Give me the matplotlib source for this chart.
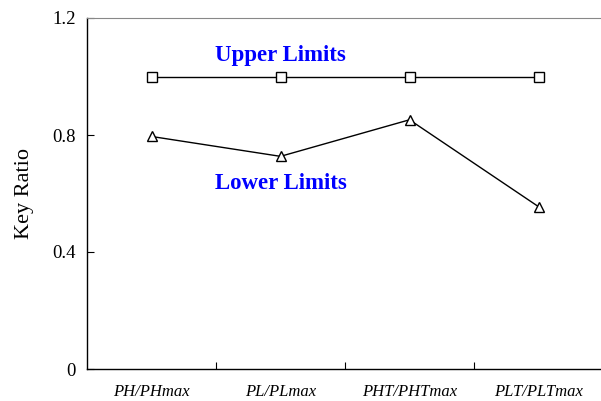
import matplotlib.pyplot as plt

# ── data ──────────────────────────────────────────────────────────────────────
CATEGORIES = ['PH/PHmax', 'PL/PLmax', 'PHT/PHTmax', 'PLT/PLTmax']
UPPER = [1.0, 1.0, 1.0, 1.0]
LOWER = [0.795, 0.727, 0.852, 0.555]
Y_TICKS = [0, 0.4, 0.8, 1.2]
Y_TICK_LABELS = ['0', '0.4', '0.8', '1.2']

plt.rcParams['font.family'] = ['Liberation Serif', 'DejaVu Serif']

fig = plt.figure(figsize=(6.01, 4.01), dpi=100)
ax = fig.add_axes([87 / 601, 32 / 401, 516 / 601, 351 / 401])

x = list(range(len(CATEGORIES)))
ax.plot(x, UPPER, color='black', lw=1, marker='s', ms=6.5,
        mfc='white', mec='black', mew=1)
ax.plot(x, LOWER, color='black', lw=1, marker='^', ms=7.5,
        mfc='white', mec='black', mew=1)

ax.text(1, 1.073, 'Upper Limits', color='#0000ff', fontsize=16.5,
        fontweight='bold', ha='center', va='center')
ax.text(1, 0.635, 'Lower Limits', color='#0000ff', fontsize=16.5,
        fontweight='bold', ha='center', va='center')

ax.set_xlim(-0.5, 3.5)
ax.set_ylim(0, 1.2)

# category separators as inward ticks, names centred between them
ax.set_xticks([0.5, 1.5, 2.5])
ax.set_xticklabels([])
ax.set_xticks(x, minor=True)
ax.set_xticklabels(CATEGORIES, minor=True, fontstyle='italic', fontsize=12)
ax.tick_params(axis='x', which='major', direction='in', length=5, width=0.8)
ax.tick_params(axis='x', which='minor', length=0, pad=11)

ax.set_yticks(Y_TICKS)
ax.set_yticklabels(Y_TICK_LABELS, fontsize=13.5)
ax.tick_params(axis='y', direction='in', length=5, width=0.8, pad=8)
ax.set_ylabel('Key Ratio', fontsize=16, labelpad=13)

ax.spines['right'].set_visible(False)
ax.spines['top'].set_color('#888888')
for s in ['left', 'bottom']:
    ax.spines[s].set_linewidth(1)

fig.savefig('out.png', dpi=100)
